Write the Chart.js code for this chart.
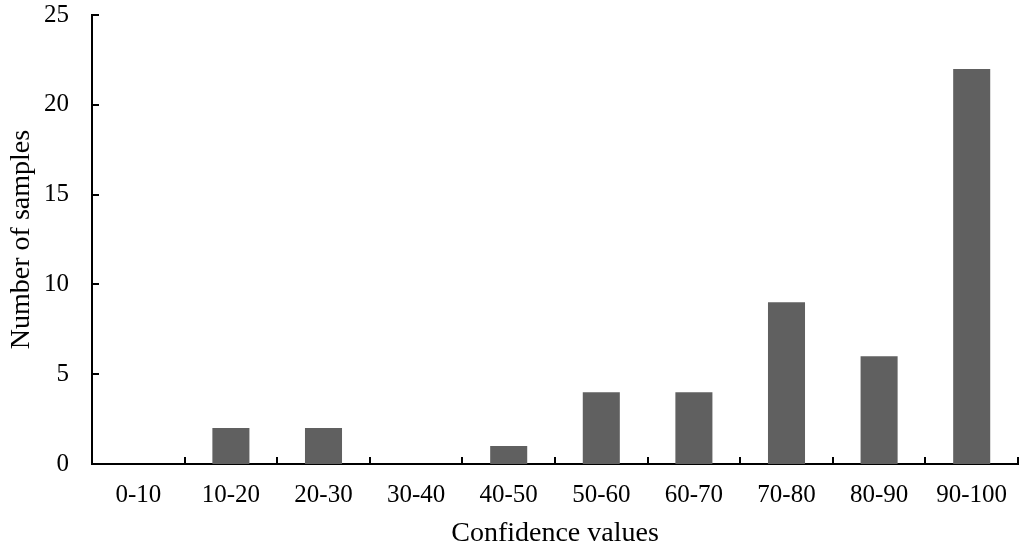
<!DOCTYPE html>
<html>
<head>
<meta charset="utf-8">
<script src="https://cdn.jsdelivr.net/npm/chart.js@4.4.1/dist/chart.umd.min.js"></script>
<style>
  html, body { margin: 0; padding: 0; background: #fff; }
  #wrap { width: 1024px; height: 550px; }
</style>
</head>
<body>
<div id="wrap"><canvas id="histChart" width="1024" height="550"></canvas></div>
<script>
// 信頼度の区間
const categories = ['0-10', '10-20', '20-30', '30-40', '40-50', '50-60', '60-70', '70-80', '80-90', '90-100'];
// サンプル数
const sampleCounts = [0, 2, 2, 0, 1, 4, 4, 9, 6, 22];
// y軸の目盛り
const yTicks = [0, 5, 10, 15, 20, 25];

const serif = "'Liberation Serif', 'Times New Roman', serif";

// 内向きの目盛り（x軸は区間の境界、y軸は各目盛り値）
const innerTicks = {
    id: 'innerTicks',
    afterDraw(chart) {
        const x = chart.scales.x;
        const y = chart.scales.y;
        const area = chart.chartArea;
        const ctx = chart.ctx;
        ctx.save();
        ctx.strokeStyle = '#000';
        ctx.lineWidth = 2;
        ctx.beginPath();
        const half = (x.getPixelForValue(1) - x.getPixelForValue(0)) / 2;
        for (let i = 0; i < categories.length; i++) {
            const px = Math.round(x.getPixelForValue(i) + half);
            ctx.moveTo(px, area.bottom);
            ctx.lineTo(px, area.bottom - 7);
        }
        yTicks.forEach(v => {
            if (v === 0) return;
            const py = Math.round(y.getPixelForValue(v));
            ctx.moveTo(area.left, py);
            ctx.lineTo(area.left + 7, py);
        });
        ctx.stroke();
        ctx.restore();
    }
};

const ctx = document.getElementById('histChart').getContext('2d');
const histChart = new Chart(ctx, {
    type: 'bar',
    data: {
        labels: categories,
        datasets: [{
            label: 'Number of samples',
            data: sampleCounts,
            backgroundColor: '#606060',
            borderWidth: 0,
            barPercentage: 0.4,
            categoryPercentage: 1.0
        }]
    },
    options: {
        responsive: false,
        animation: false,
        layout: { padding: { top: 15, right: 6, left: 0, bottom: 0 } },
        plugins: {
            legend: { display: false },
            title: { display: false },
            tooltip: { enabled: false }
        },
        scales: {
            x: {
                offset: true,
                grid: { display: false, drawTicks: false },
                border: { display: true, color: '#000', width: 2 },
                ticks: {
                    color: '#000',
                    font: { family: serif, size: 25 },
                    padding: 16,
                    maxRotation: 0,
                    autoSkip: false
                },
                title: {
                    display: true,
                    text: 'Confidence values',
                    color: '#000',
                    font: { family: serif, size: 28 },
                    padding: { top: 4, bottom: 0 }
                },
                afterFit(scale) {
                    scale.height = 86;
                    scale.paddingLeft = 0;
                    scale.paddingRight = 0;
                }
            },
            y: {
                min: 0,
                max: 25,
                afterBuildTicks(scale) {
                    scale.ticks = yTicks.map(v => ({ value: v }));
                },
                grid: { display: false, drawTicks: false },
                border: { display: true, color: '#000', width: 2 },
                ticks: {
                    color: '#000',
                    font: { family: serif, size: 25 },
                    padding: 23
                },
                title: {
                    display: true,
                    text: 'Number of samples',
                    color: '#000',
                    font: { family: serif, size: 28 },
                    padding: { top: 5, bottom: 4 }
                },
                afterFit(scale) {
                    scale.width = 92;
                    scale.paddingTop = 0;
                    scale.paddingBottom = 0;
                }
            }
        }
    },
    plugins: [innerTicks]
});
</script>
</body>
</html>
